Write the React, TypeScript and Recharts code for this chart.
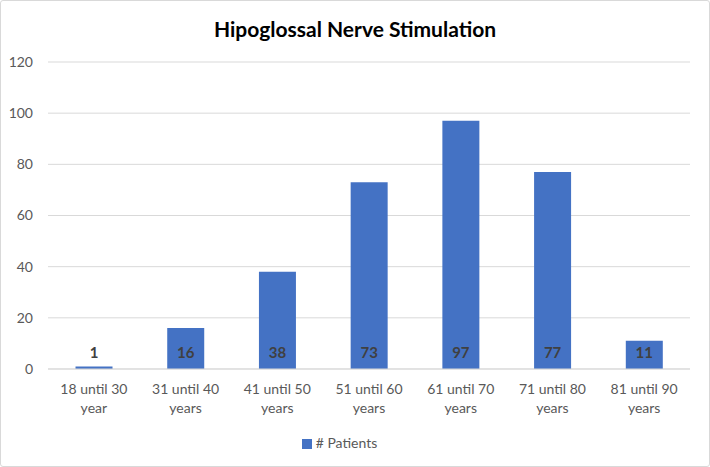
import React from 'react';
import { BarChart, Bar, XAxis, YAxis, CartesianGrid, Legend, LabelList } from 'recharts';

const ageGroups = [
  '18 until 30 year',
  '31 until 40 years',
  '41 until 50 years',
  '51 until 60 years',
  '61 until 70 years',
  '71 until 80 years',
  '81 until 90 years',
];
const patients = [1, 16, 38, 73, 97, 77, 11];
const yTicks = [0, 20, 40, 60, 80, 100, 120];

const data = ageGroups.map((group, i) => ({ group, patients: patients[i] }));

const FONT = 'Lato, "Open Sans", sans-serif';
const BLUE = '#4472C4';
const TEXT = '#595959';

// split "18 until 30 year" into two lines like Excel does
function AgeTick(props: any) {
  const { x, y, payload } = props;
  const words = String(payload.value).split(' ');
  const last = words.pop();
  return (
    <g transform={`translate(${x},${y})`}>
      <text textAnchor="middle" fill={TEXT} fontSize={14} fontFamily={FONT}>
        <tspan x={0} dy={17}>{words.join(' ')}</tspan>
        <tspan x={0} dy={19}>{last}</tspan>
      </text>
    </g>
  );
}

// value labels sit just above the category axis
function BaseLabel(props: any) {
  const { x, y, width, height, value } = props;
  const base = y + height;
  return (
    <text
      x={x + width / 2}
      y={base - 17}
      textAnchor="middle"
      dominantBaseline="central"
      fill="#404040"
      fontSize={15}
      fontWeight={700}
      fontFamily={FONT}
    >
      {value}
    </text>
  );
}

export default function App() {
  return (
    <div
      style={{
        position: 'absolute',
        left: 0,
        top: 0,
        width: 710,
        height: 467,
        boxSizing: 'border-box',
        border: '1.5px solid #d9d9d9',
        borderRadius: 3,
        background: '#fff',
        fontFamily: FONT,
      }}
    >
      <div
        style={{
          position: 'absolute',
          top: 15,
          left: 0,
          width: '100%',
          textAlign: 'center',
          fontSize: 21,
          fontWeight: 700,
          color: '#000',
        }}
      >
        Hipoglossal Nerve Stimulation
      </div>
      <div style={{ position: 'absolute', left: -1.5, top: -1.5 }}>
        <BarChart
          width={710}
          height={467}
          data={data}
          margin={{ top: 62, right: 20, left: 0, bottom: 16 }}
          barCategoryGap="30%"
        >
          <CartesianGrid vertical={false} stroke="#d9d9d9" strokeWidth={1} />
          <XAxis
            dataKey="group"
            height={65}
            tick={<AgeTick />}
            tickLine={false}
            axisLine={{ stroke: '#d9d9d9' }}
            interval={0}
          />
          <YAxis
            width={48}
            domain={[0, 120]}
            ticks={yTicks}
            axisLine={false}
            tickLine={false}
            tick={{ fill: TEXT, fontSize: 14, fontFamily: FONT }}
            tickMargin={9}
          />
          <Legend
            verticalAlign="bottom"
            align="center"
            iconType="square"
            iconSize={10}
            wrapperStyle={{ fontFamily: FONT, fontSize: 14 }}
            formatter={(v: string) => <span style={{ color: TEXT }}>{v}</span>}
          />
          <Bar dataKey="patients" name="# Patients" fill={BLUE} isAnimationActive={false}>
            <LabelList dataKey="patients" content={<BaseLabel />} />
          </Bar>
        </BarChart>
      </div>
    </div>
  );
}
